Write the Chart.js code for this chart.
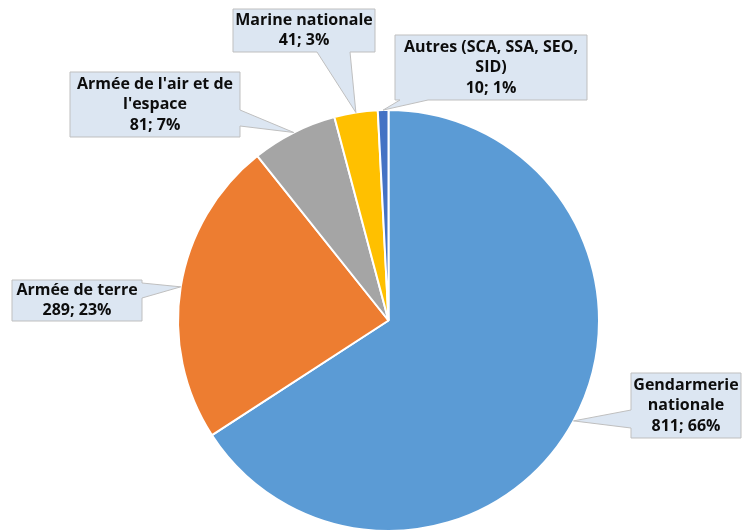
<!DOCTYPE html>
<html>
<head>
<meta charset="utf-8">
<script src="https://cdn.jsdelivr.net/npm/chart.js@4/dist/chart.umd.min.js"></script>
<style>
  html, body { margin: 0; padding: 0; background: #ffffff; overflow: hidden; width: 742px; height: 530px; }
  #wrap { width: 742px; height: 545px; }
</style>
</head>
<body>
<div id="wrap"><canvas id="c" width="742" height="545"></canvas></div>
<script>
// ---- data ----
const categories = [
  "Gendarmerie nationale",
  "Armée de terre",
  "Armée de l'air et de l'espace",
  "Marine nationale",
  "Autres (SCA, SSA, SEO, SID)"
];
const values = [811, 289, 81, 41, 10];
const colors = ["#5B9BD5", "#ED7D31", "#A5A5A5", "#FFC000", "#4472C4"];

// ---- callout layout (styling only) ----
const callouts = [
  { x: 631, y: 373, w: 110, h: 65, side: "left",   b1: 410, b2: 428 },
  { x: 12,  y: 280, w: 130, h: 41, side: "right",  b1: 283, b2: 298 },
  { x: 70,  y: 72,  w: 170, h: 65, side: "right",  b1: 110, b2: 126 },
  { x: 233, y: 9,   w: 142, h: 43, side: "bottom", b1: 317, b2: 350 },
  { x: 395, y: 35,  w: 192, h: 65, side: "bottom", b1: 400, b2: 428 }
];
const FONT = "bold 16px 'Open Sans'";
const LINE_H = 20.5;

function wrapText(ctx, text, maxW) {
  const words = text.split(" ");
  const lines = [];
  let cur = "";
  for (const w of words) {
    const t = cur ? cur + " " + w : w;
    if (ctx.measureText(t).width > maxW && cur) { lines.push(cur); cur = w; }
    else cur = t;
  }
  if (cur) lines.push(cur);
  return lines;
}

const calloutPlugin = {
  id: "callouts",
  afterDraw(chart) {
    const ctx = chart.ctx;
    const meta = chart.getDatasetMeta(0);
    const total = values.reduce((a, b) => a + b, 0);
    ctx.save();
    meta.data.forEach((arc, i) => {
      const c = callouts[i];
      const p = arc.getProps(["x", "y", "startAngle", "endAngle", "outerRadius"], true);
      const mid = (p.startAngle + p.endAngle) / 2;
      const tx = p.x + Math.cos(mid) * p.outerRadius;
      const ty = p.y + Math.sin(mid) * p.outerRadius;
      const L = c.x, T = c.y, R = c.x + c.w, B = c.y + c.h;
      ctx.beginPath();
      ctx.moveTo(L, T);
      if (c.side === "top") { ctx.lineTo(c.b1, T); ctx.lineTo(tx, ty); ctx.lineTo(c.b2, T); }
      ctx.lineTo(R, T);
      if (c.side === "right") { ctx.lineTo(R, c.b1); ctx.lineTo(tx, ty); ctx.lineTo(R, c.b2); }
      ctx.lineTo(R, B);
      if (c.side === "bottom") { ctx.lineTo(c.b2, B); ctx.lineTo(tx, ty); ctx.lineTo(c.b1, B); }
      ctx.lineTo(L, B);
      if (c.side === "left") { ctx.lineTo(L, c.b2); ctx.lineTo(tx, ty); ctx.lineTo(L, c.b1); }
      ctx.closePath();
      ctx.fillStyle = "#DCE6F2";
      ctx.fill();
      ctx.strokeStyle = "#BFBFBF";
      ctx.lineWidth = 1;
      ctx.stroke();

      ctx.font = FONT;
      ctx.fillStyle = "#0d0d0d";
      ctx.textAlign = "center";
      ctx.textBaseline = "middle";
      const pct = Math.round(values[i] / total * 100);
      const lines = wrapText(ctx, categories[i], c.w + 4);
      lines.push(values[i] + "; " + pct + "%");
      const cx = c.x + c.w / 2;
      const startY = c.y + c.h / 2 - (lines.length - 1) * LINE_H / 2;
      lines.forEach((ln, k) => ctx.fillText(ln, cx, startY + k * LINE_H));
    });
    ctx.restore();
  }
};

new Chart(document.getElementById("c"), {
  type: "pie",
  data: {
    labels: categories,
    datasets: [{
      data: values,
      backgroundColor: colors,
      borderColor: "#ffffff",
      borderWidth: 2,
      hoverOffset: 0,
      offset: 0
    }]
  },
  options: {
    responsive: false,
    animation: false,
    devicePixelRatio: 1,
    layout: { padding: { top: 109, bottom: 13, left: 177, right: 142 } },
    plugins: { legend: { display: false }, tooltip: { enabled: false } }
  },
  plugins: [calloutPlugin]
});
</script>
</body>
</html>
